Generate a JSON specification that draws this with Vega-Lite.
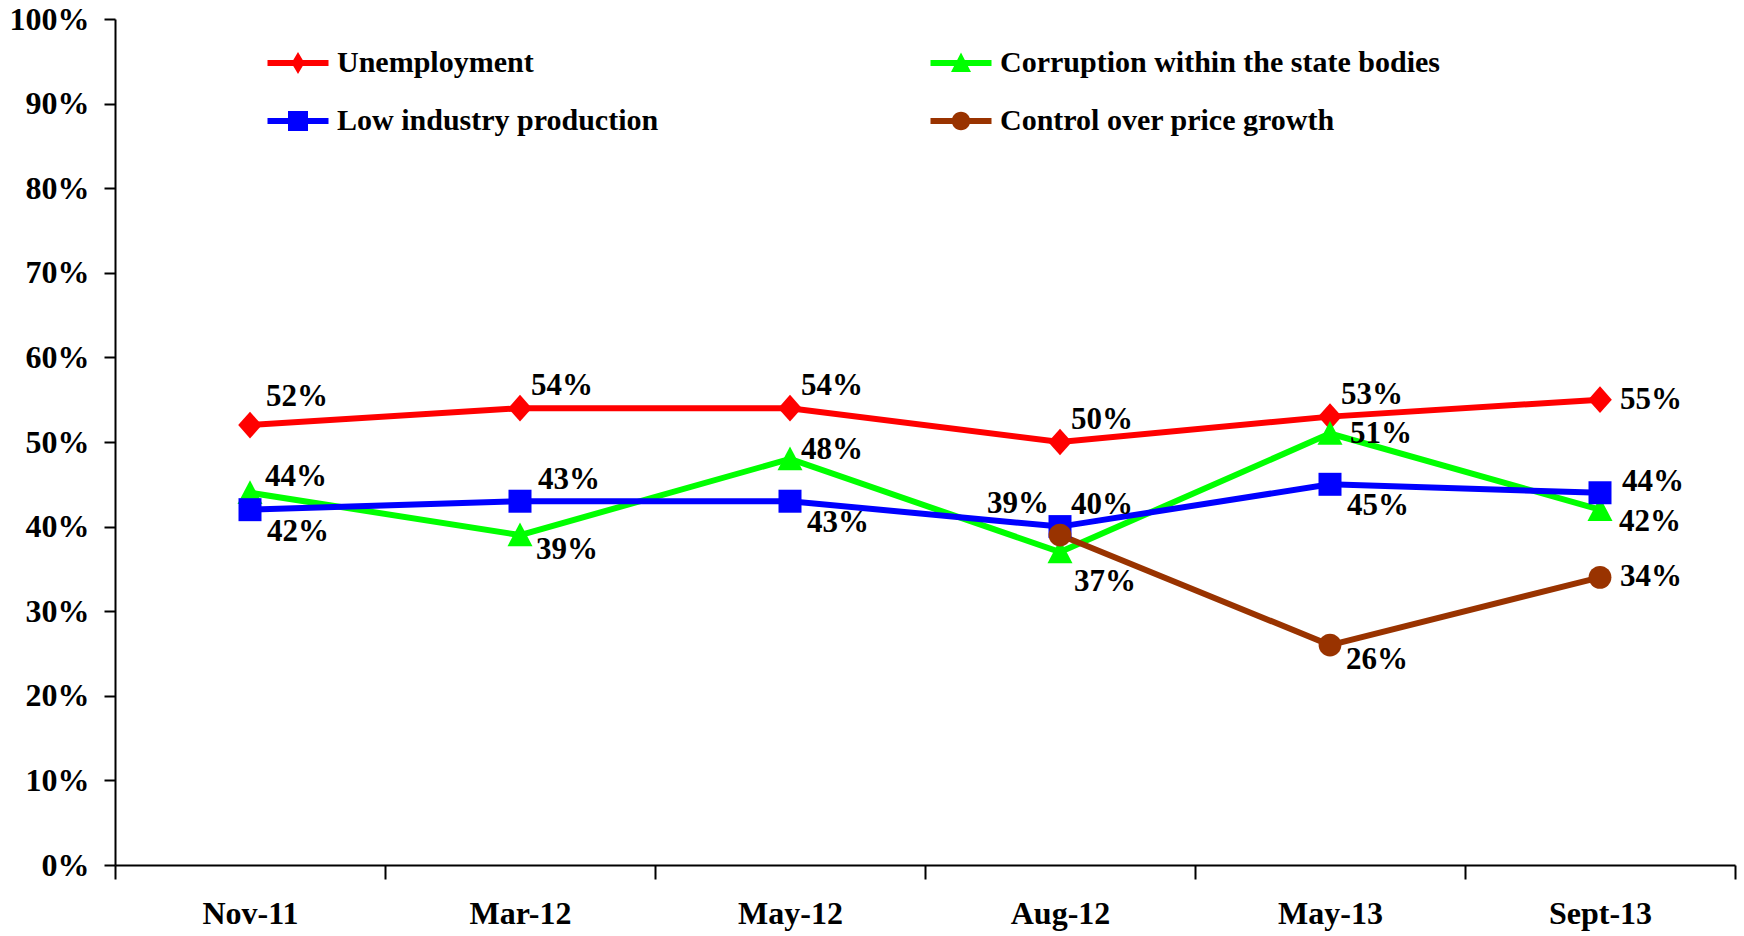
{
  "$schema": "https://vega.github.io/schema/vega-lite/v6.json",
  "width": 1620,
  "height": 846,
  "autosize": {"type": "none"},
  "padding": {"left": 115, "top": 19, "right": 9, "bottom": 71},
  "background": "white",
  "config": {"view": {"stroke": null}, "font": "Liberation Serif"},
  "data": {
    "values": [
      {"date": "Nov-11", "series": "Unemployment", "value": 0.52},
      {"date": "Mar-12", "series": "Unemployment", "value": 0.54},
      {"date": "May-12", "series": "Unemployment", "value": 0.54},
      {"date": "Aug-12", "series": "Unemployment", "value": 0.50},
      {"date": "May-13", "series": "Unemployment", "value": 0.53},
      {"date": "Sept-13", "series": "Unemployment", "value": 0.55},
      {"date": "Nov-11", "series": "Corruption within the state bodies", "value": 0.44},
      {"date": "Mar-12", "series": "Corruption within the state bodies", "value": 0.39},
      {"date": "May-12", "series": "Corruption within the state bodies", "value": 0.48},
      {"date": "Aug-12", "series": "Corruption within the state bodies", "value": 0.37},
      {"date": "May-13", "series": "Corruption within the state bodies", "value": 0.51},
      {"date": "Sept-13", "series": "Corruption within the state bodies", "value": 0.42},
      {"date": "Nov-11", "series": "Low industry production", "value": 0.42},
      {"date": "Mar-12", "series": "Low industry production", "value": 0.43},
      {"date": "May-12", "series": "Low industry production", "value": 0.43},
      {"date": "Aug-12", "series": "Low industry production", "value": 0.40},
      {"date": "May-13", "series": "Low industry production", "value": 0.45},
      {"date": "Sept-13", "series": "Low industry production", "value": 0.44},
      {"date": "Aug-12", "series": "Control over price growth", "value": 0.39},
      {"date": "May-13", "series": "Control over price growth", "value": 0.26},
      {"date": "Sept-13", "series": "Control over price growth", "value": 0.34}
    ]
  },
  "encoding": {
    "x": {
      "field": "date",
      "type": "ordinal",
      "scale": {"type": "band", "domain": ["Nov-11", "Mar-12", "May-12", "Aug-12", "May-13", "Sept-13"], "paddingInner": 0, "paddingOuter": 0},
      "axis": {"title": null, "labelAngle": 0, "tickBand": "extent", "tickSize": 14, "tickWidth": 2, "tickColor": "black", "domainColor": "black", "domainWidth": 2, "labelFont": "Liberation Serif", "labelFontSize": 32, "labelFontWeight": "bold", "labelColor": "black", "labelPadding": 19, "grid": false}
    },
    "y": {
      "field": "value",
      "type": "quantitative",
      "scale": {"domain": [0, 1], "nice": false},
      "axis": {"title": null, "format": ".0%", "values": [0, 0.1, 0.2, 0.3, 0.4, 0.5, 0.6, 0.7, 0.8, 0.9, 1], "tickSize": 11, "tickWidth": 2, "tickColor": "black", "domainColor": "black", "domainWidth": 2, "labelFont": "Liberation Serif", "labelFontSize": 32, "labelFontWeight": "bold", "labelColor": "black", "labelPadding": 15, "grid": false}
    },
    "color": {
      "field": "series",
      "type": "nominal",
      "scale": {"domain": ["Unemployment", "Low industry production", "Corruption within the state bodies", "Control over price growth"], "range": ["#FF0000", "#0000FF", "#00FF00", "#993300"]},
      "legend": {
        "title": null,
        "orient": "none",
        "legendX": 158,
        "legendY": 19,
        "columns": 2,
        "columnPadding": 271,
        "rowPadding": 18,
        "padding": 0,
        "labelFont": "Liberation Serif",
        "labelFontSize": 30,
        "labelFontWeight": "bold",
        "labelColor": "black",
        "labelOffset": 14,
        "labelLimit": 0,
        "symbolSize": 2500,
        "encode": {
          "symbols": {
            "update": {
              "shape": {"signal": "datum.value === 'Unemployment' ? 'M-1.22,-0.12H1.22V0.12H-1.22Z M0,-0.44L0.26,0L0,0.44L-0.26,0Z' : datum.value === 'Low industry production' ? 'M-1.22,-0.12H1.22V0.12H-1.22Z M-0.4,-0.4H0.4V0.4H-0.4Z' : datum.value === 'Corruption within the state bodies' ? 'M-1.22,-0.12H1.22V0.12H-1.22Z M0,-0.42L0.4,0.36H-0.4Z' : 'M-1.22,-0.12H1.22V0.12H-1.22Z M-0.37,0A0.37,0.37 0 1,1 0.37,0A0.37,0.37 0 1,1 -0.37,0Z'"},
              "fill": {"signal": "scale('color', datum.value)"},
              "stroke": {"value": "transparent"},
              "strokeWidth": {"value": 0},
              "opacity": {"value": 1},
              "fillOpacity": {"value": 1}
            }
          }
        }
      }
    }
  },
  "layer": [
    {"transform": [{"filter": "datum.series === 'Unemployment'"}], "mark": {"type": "line", "strokeWidth": 6}},
    {"transform": [{"filter": "datum.series === 'Corruption within the state bodies'"}], "mark": {"type": "line", "strokeWidth": 6}},
    {"transform": [{"filter": "datum.series === 'Low industry production'"}], "mark": {"type": "line", "strokeWidth": 6}},
    {"transform": [{"filter": "datum.series === 'Control over price growth'"}], "mark": {"type": "line", "strokeWidth": 6}},
    {"transform": [{"filter": "datum.series === 'Unemployment'"}], "mark": {"type": "point", "filled": true, "opacity": 1, "shape": "M0,-1.13L1,0L0,1.13L-1,0Z", "size": 560}},
    {"transform": [{"filter": "datum.series === 'Corruption within the state bodies'"}], "mark": {"type": "point", "filled": true, "opacity": 1, "shape": "M0,-1L1,0.9H-1Z", "size": 625}},
    {"transform": [{"filter": "datum.series === 'Low industry production'"}], "mark": {"type": "point", "filled": true, "opacity": 1, "shape": "square", "size": 529}},
    {"transform": [{"filter": "datum.series === 'Control over price growth'"}], "mark": {"type": "point", "filled": true, "opacity": 1, "shape": "circle", "size": 520}},
    {"transform": [{"filter": "(datum.series === 'Unemployment' && (datum.date === 'Mar-12' || datum.date === 'May-12' || datum.date === 'Aug-12' || datum.date === 'May-13')) || (datum.series === 'Low industry production' && datum.date === 'Aug-12')"}],
     "mark": {"type": "text", "align": "left", "baseline": "middle", "dx": 11, "dy": -22, "font": "Liberation Serif", "fontSize": 31, "fontWeight": "bold"},
     "encoding": {"text": {"field": "value", "format": ".0%"}, "color": {"value": "black"}}},
    {"transform": [{"filter": "datum.series === 'Unemployment' && datum.date === 'Nov-11'"}],
     "mark": {"type": "text", "align": "left", "baseline": "middle", "dx": 16, "dy": -28, "font": "Liberation Serif", "fontSize": 31, "fontWeight": "bold"},
     "encoding": {"text": {"field": "value", "format": ".0%"}, "color": {"value": "black"}}},
    {"transform": [{"filter": "datum.series === 'Low industry production' && datum.date === 'Mar-12'"}],
     "mark": {"type": "text", "align": "left", "baseline": "middle", "dx": 18, "dy": -21, "font": "Liberation Serif", "fontSize": 31, "fontWeight": "bold"},
     "encoding": {"text": {"field": "value", "format": ".0%"}, "color": {"value": "black"}}},
    {"transform": [{"filter": "datum.series === 'Low industry production' && (datum.date === 'Nov-11' || datum.date === 'May-12' || datum.date === 'May-13')"}],
     "mark": {"type": "text", "align": "left", "baseline": "middle", "dx": 17, "dy": 22, "font": "Liberation Serif", "fontSize": 31, "fontWeight": "bold"},
     "encoding": {"text": {"field": "value", "format": ".0%"}, "color": {"value": "black"}}},
    {"transform": [{"filter": "(datum.series === 'Corruption within the state bodies' && datum.date === 'Mar-12') || (datum.series === 'Control over price growth' && datum.date === 'May-13')"}],
     "mark": {"type": "text", "align": "left", "baseline": "middle", "dx": 16, "dy": 15, "font": "Liberation Serif", "fontSize": 31, "fontWeight": "bold"},
     "encoding": {"text": {"field": "value", "format": ".0%"}, "color": {"value": "black"}}},
    {"transform": [{"filter": "datum.series === 'Corruption within the state bodies' && datum.date === 'Aug-12'"}],
     "mark": {"type": "text", "align": "left", "baseline": "middle", "dx": 14, "dy": 30, "font": "Liberation Serif", "fontSize": 31, "fontWeight": "bold"},
     "encoding": {"text": {"field": "value", "format": ".0%"}, "color": {"value": "black"}}},
    {"transform": [{"filter": "(datum.series === 'Unemployment' && datum.date === 'Sept-13') || (datum.series === 'Corruption within the state bodies' && datum.date === 'May-13') || (datum.series === 'Control over price growth' && datum.date === 'Sept-13')"}],
     "mark": {"type": "text", "align": "left", "baseline": "middle", "dx": 20, "dy": 0, "font": "Liberation Serif", "fontSize": 31, "fontWeight": "bold"},
     "encoding": {"text": {"field": "value", "format": ".0%"}, "color": {"value": "black"}}},
    {"transform": [{"filter": "datum.series === 'Low industry production' && datum.date === 'Sept-13'"}],
     "mark": {"type": "text", "align": "left", "baseline": "middle", "dx": 22, "dy": -11, "font": "Liberation Serif", "fontSize": 31, "fontWeight": "bold"},
     "encoding": {"text": {"field": "value", "format": ".0%"}, "color": {"value": "black"}}},
    {"transform": [{"filter": "datum.series === 'Corruption within the state bodies' && datum.date === 'Sept-13'"}],
     "mark": {"type": "text", "align": "left", "baseline": "middle", "dx": 19, "dy": 12, "font": "Liberation Serif", "fontSize": 31, "fontWeight": "bold"},
     "encoding": {"text": {"field": "value", "format": ".0%"}, "color": {"value": "black"}}},
    {"transform": [{"filter": "datum.series === 'Corruption within the state bodies' && datum.date === 'Nov-11'"}],
     "mark": {"type": "text", "align": "left", "baseline": "middle", "dx": 15, "dy": -16, "font": "Liberation Serif", "fontSize": 31, "fontWeight": "bold"},
     "encoding": {"text": {"field": "value", "format": ".0%"}, "color": {"value": "black"}}},
    {"transform": [{"filter": "datum.series === 'Corruption within the state bodies' && datum.date === 'May-12'"}],
     "mark": {"type": "text", "align": "left", "baseline": "middle", "dx": 11, "dy": -9, "font": "Liberation Serif", "fontSize": 31, "fontWeight": "bold"},
     "encoding": {"text": {"field": "value", "format": ".0%"}, "color": {"value": "black"}}},
    {"transform": [{"filter": "datum.series === 'Control over price growth' && datum.date === 'Aug-12'"}],
     "mark": {"type": "text", "align": "right", "baseline": "middle", "dx": -11, "dy": -31, "font": "Liberation Serif", "fontSize": 31, "fontWeight": "bold"},
     "encoding": {"text": {"field": "value", "format": ".0%"}, "color": {"value": "black"}}}
  ]
}
